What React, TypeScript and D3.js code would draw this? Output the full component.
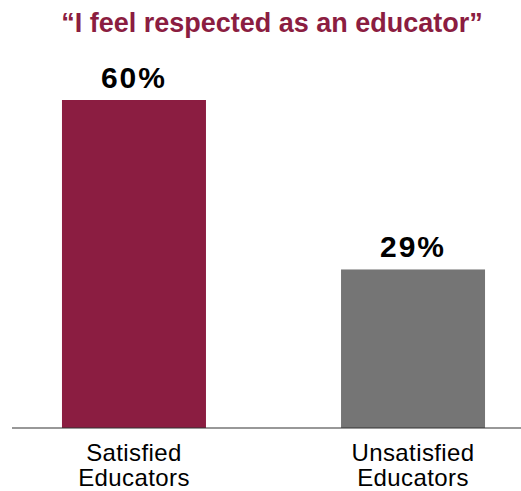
import React from "react";
import * as d3 from "d3";

const categories = ["Satisfied Educators", "Unsatisfied Educators"];
const labelLines = [["Satisfied", "Educators"], ["Unsatisfied", "Educators"]];
const values = [60, 29];
const colors = ["#8B1D41", "#757575"];
const title = "\u201CI feel respected as an educator\u201D";

export default function App() {
  const W = 521, H = 491;
  const x = d3.scaleBand<string>().domain(categories).range([-5, 552]).paddingInner(0.484).paddingOuter(0.24);
  const y = d3.scaleLinear().domain([0, 60]).range([428, 100]);
  const font = "'Liberation Sans', Arial, Helvetica, sans-serif";
  return (
    <svg width={W} height={H} style={{ position: "absolute", left: 0, top: 0 }} fontFamily={font}>
      <text x={272} y={32} textAnchor="middle" fontSize={27} fontWeight="bold" fill="#8B1D41">{title}</text>
      {categories.map((c, i) => {
        const bx = x(c)!;
        const bw = x.bandwidth();
        return (
          <g key={c}>
            <rect x={bx} y={y(values[i])} width={bw} height={y(0) - y(values[i])} fill={colors[i]} />
            <text x={bx + bw / 2} y={y(values[i]) - 12} textAnchor="middle" fontSize={30} letterSpacing={2} fontWeight="bold" fill="#000">{values[i]}%</text>
            {labelLines[i].map((l, j) => (
              <text key={j} x={bx + bw / 2} y={461 + j * 25} textAnchor="middle" fontSize={24} letterSpacing={0.4} fill="#000">{l}</text>
            ))}
          </g>
        );
      })}
      <line x1={12} x2={521} y1={y(0)} y2={y(0)} stroke="#333" strokeWidth={1.2} />
    </svg>
  );
}
